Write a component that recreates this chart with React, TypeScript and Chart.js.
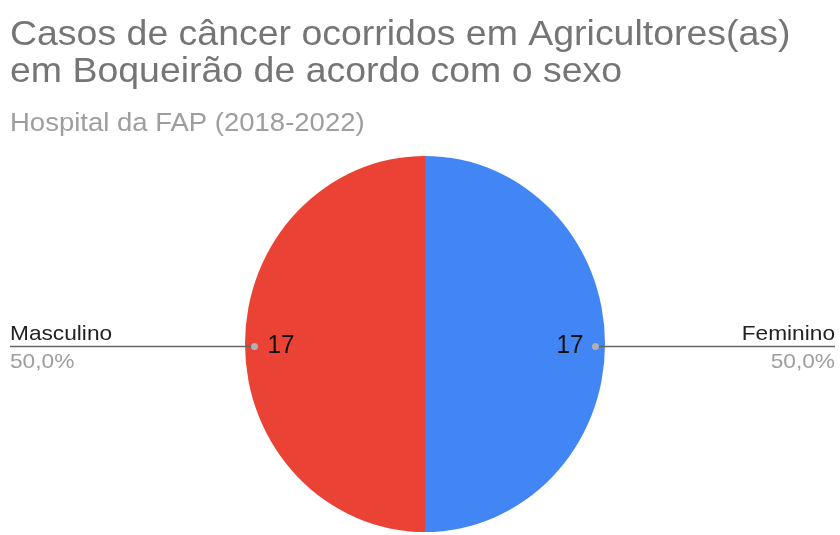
import React, { useEffect, useRef } from "react";
import { Chart, registerables } from "chart.js";

Chart.register(...registerables);

const categories = ["Feminino", "Masculino"];
const values = [17, 17];
const colors = ["#4285F4", "#EA4335"];
const titleLines = ["Casos de câncer ocorridos em Agricultores(as)", "em Boqueirão de acordo com o sexo"];
const subtitleText = "Hospital da FAP (2018-2022)";

const FONT = "'Liberation Sans', Arial, sans-serif";

function wideText(ctx: any, text: string, x: number, y: number, sx: number) {
  ctx.save();
  ctx.translate(x, y);
  ctx.scale(sx, 1);
  ctx.fillText(text, 0, 0);
  ctx.restore();
}

const ellipsePlugin = {
  id: "ellipsePie",
  beforeDatasetsDraw(chart: any) {
    const meta = chart.getDatasetMeta(0);
    const arc: any = meta.data[0];
    if (!arc) return;
    const r = arc.outerRadius;
    chart.ctx.save();
    chart.ctx.translate(arc.x, arc.y);
    chart.ctx.scale(180 / r, 188 / r);
    chart.ctx.translate(-arc.x, -arc.y);
  },
  afterDatasetsDraw(chart: any) {
    chart.ctx.restore();
  },
};

const textPlugin = {
  id: "customText",
  afterDraw(chart: any) {
    const ctx = chart.ctx;
    ctx.save();
    ctx.textBaseline = "alphabetic";
    ctx.textAlign = "left";
    ctx.fillStyle = "#757575";
    ctx.font = `35px ${FONT}`;
    wideText(ctx, titleLines[0], 10, 45, 1.07);
    wideText(ctx, titleLines[1], 10, 82, 1.07);
    ctx.fillStyle = "#9e9e9e";
    ctx.font = `25px ${FONT}`;
    wideText(ctx, subtitleText, 10, 131, 1.1);

    const meta = chart.getDatasetMeta(0);
    const total = values.reduce((a, b) => a + b, 0);
    meta.data.forEach((arc: any, i: number) => {
      const { x, y, startAngle, endAngle, outerRadius } = arc.getProps(
        ["x", "y", "startAngle", "endAngle", "outerRadius"],
        true
      );
      const rx = (outerRadius * 180) / outerRadius;
      const ry = (outerRadius * 188) / outerRadius;
      const mid = (startAngle + endAngle) / 2;
      const cos = Math.cos(mid);
      const sin = Math.sin(mid);
      const right = cos >= 0;
      const dotX = x + cos * (rx - 9.5);
      const dotY = y + sin * (ry - 9.5) + 2.5;
      const endX = right ? chart.width - 5 : 10;
      // leader line
      ctx.strokeStyle = "#666666";
      ctx.lineWidth = 1.5;
      ctx.beginPath();
      ctx.moveTo(dotX, dotY);
      ctx.lineTo(endX, dotY);
      ctx.stroke();
      // dot
      ctx.fillStyle = "#b0b0b0";
      ctx.beginPath();
      ctx.arc(dotX, dotY, 3.5, 0, Math.PI * 2);
      ctx.fill();
      // value
      ctx.fillStyle = "#111111";
      ctx.font = `25px ${FONT}`;
      ctx.textBaseline = "middle";
      ctx.textAlign = right ? "right" : "left";
      wideText(ctx, String(values[i]), right ? dotX - 12 : dotX + 13, dotY, 0.97);
      // category label
      ctx.textBaseline = "alphabetic";
      ctx.textAlign = right ? "right" : "left";
      ctx.fillStyle = "#222222";
      ctx.font = `21px ${FONT}`;
      wideText(ctx, categories[i], endX, dotY - 7, 1.08);
      ctx.fillStyle = "#9e9e9e";
      const pct = ((values[i] / total) * 100).toFixed(1).replace(".", ",") + "%";
      wideText(ctx, pct, endX, dotY + 21, 1.08);
    });
    ctx.restore();
  },
};

export default function App() {
  const ref = useRef<HTMLCanvasElement | null>(null);
  useEffect(() => {
    if (!ref.current) return;
    const chart = new Chart(ref.current, {
      type: "pie",
      data: {
        labels: categories,
        datasets: [
          {
            data: values,
            backgroundColor: colors,
            borderWidth: 0,
          },
        ],
      },
      options: {
        animation: false,
        responsive: false,
        layout: { padding: { top: 160, bottom: 7, left: 10, right: 0 } },
        plugins: {
          legend: { display: false },
          tooltip: { enabled: false },
          title: { display: false },
        },
      },
      plugins: [ellipsePlugin, textPlugin],
    });
    return () => chart.destroy();
  }, []);
  return (
    <div style={{ position: "absolute", left: 0, top: 0, width: 840, height: 535, background: "#fff" }}>
      <canvas ref={ref} width={840} height={535} style={{ display: "block" }} />
    </div>
  );
}
